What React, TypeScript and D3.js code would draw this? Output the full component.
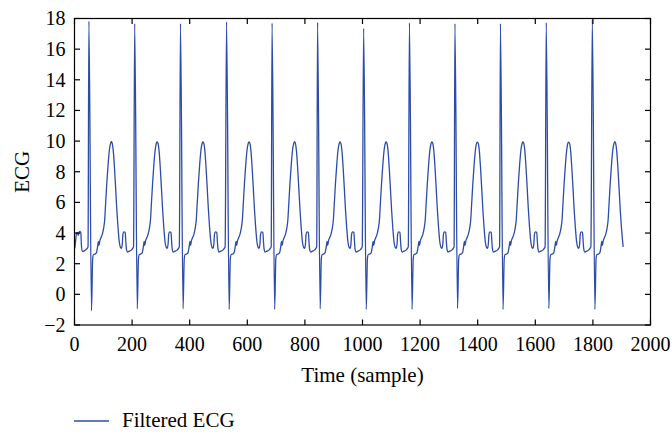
import React from "react";
import * as d3 from "d3";

// R-peak sample positions and heights, S-trough depths, T-peak heights (read per beat)
const rPeakSamples = [50, 209, 368, 528, 686, 844, 1004, 1163, 1321, 1479, 1638, 1798];
const rPeakValues = [17.82, 17.67, 17.67, 17.78, 17.7, 17.75, 17.35, 17.71, 17.67, 17.67, 17.73, 17.91];
const sTroughValues = [-1.07, -0.94, -0.94, -0.98, -0.98, -0.94, -0.98, -0.98, -0.92, -0.98, -0.92, -0.98];
const tPeakValues = [9.98, 9.95, 9.95, 9.95, 9.97, 9.95, 9.95, 9.95, 9.93, 9.95, 9.93, 9.97];

// Beat shape read from one cycle (offset in samples after the R peak)
const beatOffsets = [0, 9, 13, 16, 20, 26, 30, 33, 35, 38, 41, 47, 51, 55, 58, 62, 66, 71, 76, 78, 81, 85, 89, 93, 97, 101, 105, 110, 113, 116, 118, 121, 126, 128, 130, 134, 140, 148, 152, 155];
const beatValues = [NaN, NaN, 2.3, 2.6, 2.62, 2.7, 3.1, 3.45, 3.2, 3.5, 3.65, 3.95, 4.3, 4.9, 5.9, 7.2, 8.3, 9.4, 9.9, NaN, 9.85, 9.3, 8.2, 6.9, 5.5, 4.4, 3.5, 3.05, 3.0, 3.3, 3.9, 4.08, 4.05, 3.5, 3.0, 2.75, 2.82, 2.9, 3.0, 3.1];

// Lead-in before the first R peak, and end of the record
const leadInSamples = [1, 4, 7, 10, 13, 16, 19, 22, 24, 27, 32, 38, 44, 47];
const leadInValues = [3.0, 3.5, 4.0, 4.05, 3.85, 4.05, 4.1, 4.0, 3.2, 2.8, 2.82, 2.9, 3.0, 3.1];
const endSample = 1905;
const endValue = 3.1;

const xTicks = [0, 200, 400, 600, 800, 1000, 1200, 1400, 1600, 1800, 2000];
const yTicks = [-2, 0, 2, 4, 6, 8, 10, 12, 14, 16, 18];

type Pt = [number, number];

function buildSeries(): Pt[] {
  const pts: Pt[] = leadInSamples.map((s, i) => [s, leadInValues[i]] as Pt);
  rPeakSamples.forEach((r, b) => {
    beatOffsets.forEach((o, k) => {
      const s = r + o;
      if (s >= endSample) return;
      let v = beatValues[k];
      if (o === 0) v = rPeakValues[b];
      else if (o === 9) v = sTroughValues[b];
      else if (o === 78) v = tPeakValues[b];
      pts.push([s, v]);
    });
  });
  pts.push([endSample, endValue]);
  return pts;
}

const W = 672;
const H = 434;
const L = 74.5;
const R = 650.5;
const T = 18.5;
const B = 325;
const FONT = "'Liberation Serif', 'DejaVu Serif', serif";
const LINE = "#2c4ca8";

export default function App() {
  const x = d3.scaleLinear().domain([0, 2000]).range([L, R]);
  const y = d3.scaleLinear().domain([-2, 18]).range([B, T]);
  const data = buildSeries();
  const line = d3
    .line<Pt>()
    .x((d) => x(d[0]))
    .y((d) => y(d[1]))
    .curve(d3.curveMonotoneX);
  const tl = 5.5;
  return (
    <svg
      width={W}
      height={H}
      style={{ position: "absolute", left: 0, top: 0, background: "#fff" }}
      fontFamily={FONT}
    >
      <rect x={0} y={0} width={W} height={H} fill="#fff" />
      <path d={line(data) || ""} fill="none" stroke={LINE} strokeWidth={1.3} strokeLinejoin="round" />
      <rect x={L} y={T} width={R - L} height={B - T} fill="none" stroke="#000" strokeWidth={1.2} />
      {xTicks.map((t) => (
        <g key={"x" + t}>
          <line x1={x(t)} x2={x(t)} y1={B} y2={B - tl} stroke="#000" strokeWidth={1.2} />
          <line x1={x(t)} x2={x(t)} y1={T} y2={T + tl} stroke="#000" strokeWidth={1.2} />
          <text x={x(t)} y={350.5} textAnchor="middle" fontSize={20} fill="#000">
            {t}
          </text>
        </g>
      ))}
      {yTicks.map((t) => (
        <g key={"y" + t}>
          <line x1={L} x2={L + tl} y1={y(t)} y2={y(t)} stroke="#000" strokeWidth={1.2} />
          <line x1={R} x2={R - tl} y1={y(t)} y2={y(t)} stroke="#000" strokeWidth={1.2} />
          <text x={65.5} y={y(t) + 6.8} textAnchor="end" fontSize={20} fill="#000">
            {t < 0 ? "\u2212" + Math.abs(t) : String(t)}
          </text>
        </g>
      ))}
      <text
        transform={`translate(28.5,${(T + B) / 2}) rotate(-90)`}
        textAnchor="middle"
        fontSize={21}
        fill="#000"
      >
        ECG
      </text>
      <text x={(L + R) / 2} y={382} textAnchor="middle" fontSize={21} fill="#000">
        Time (sample)
      </text>
      <line x1={74} x2={109} y1={421} y2={421} stroke={LINE} strokeWidth={1.3} />
      <text x={122} y={426.5} fontSize={21} fill="#000">
        Filtered ECG
      </text>
    </svg>
  );
}
